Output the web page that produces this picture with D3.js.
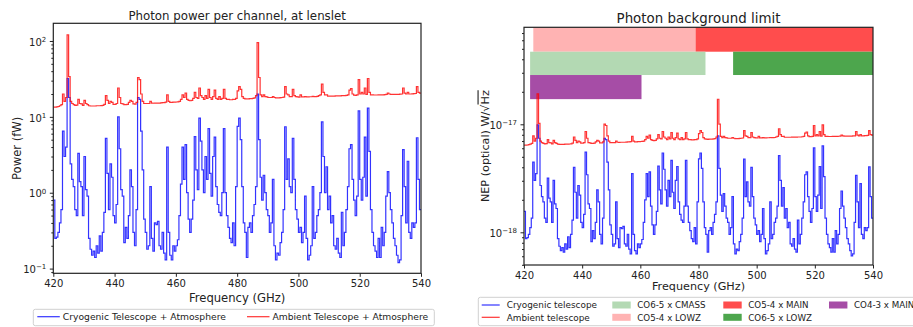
<!DOCTYPE html>
<html>
<head>
<meta charset="utf-8">
<script src="https://cdn.jsdelivr.net/npm/d3@7"></script>
<style>
  body { margin: 0; background: #fff; }
  svg { display: block; font-family: "DejaVu Sans", sans-serif; }
</style>
</head>
<body>
<div id="chart"></div>
<script>
// channel grid: 0.5 GHz bins from 420 GHz
const freqStart = 420;
const freqStep = 0.5;

// photon power per channel (fW)
const cryoPower = [
  0.8, 0.25, 0.26, 0.3, 0.4, 0.6, 6.5, 3.0, 4.0, 32, 18, 2.4, 1.5, 1.2, 0.6, 0.5, 3.3, 1.4, 1.2, 0.5,
  3.0, 1.1, 0.9, 0.25, 0.18, 0.15, 0.17, 0.14, 0.2, 0.16, 0.27, 0.17, 0.3, 0.55, 5.2, 1.8, 0.6, 2.4, 1.6, 0.5,
  0.4, 0.7, 10, 3.8, 1.1, 0.9, 0.22, 0.35, 0.25, 0.5, 2.0, 1.2, 0.3, 0.2, 0.6, 18, 17, 6.5, 2.0, 0.45,
  0.3, 0.18, 0.2, 1.2, 0.25, 0.17, 0.4, 0.38, 0.42, 0.2, 0.18, 0.3, 0.16, 0.13, 4.0, 0.3, 0.15, 0.13, 0.2, 0.17,
  0.2, 0.24, 0.5, 1.3, 4.0, 1.5, 4.3, 1.0, 0.45, 0.3, 0.45, 0.8, 5.5, 2.0, 1.1, 9.6, 4.8, 2.0, 1.0, 3.0,
  1.5, 7.0, 1.8, 0.9, 3.0, 5.4, 1.2, 0.7, 0.55, 0.5, 1.0, 7.0, 1.0, 0.5, 0.35, 0.25, 0.22, 0.4, 0.2, 1.2,
  7.5, 9.6, 5.0, 1.2, 0.4, 0.3, 0.14, 0.35, 0.4, 0.3, 0.5, 0.7, 1.2, 20, 5, 1.6, 0.8, 1.7, 1.0, 0.6,
  0.5, 0.3, 0.4, 1.5, 0.2, 0.13, 0.16, 0.15, 0.22, 0.3, 0.6, 7.4, 1.5, 2.8, 1.2, 1.0, 5.2, 1.5, 0.6, 0.45,
  0.3, 0.35, 0.22, 0.3, 0.9, 0.25, 0.13, 0.15, 0.2, 1.2, 0.25, 0.3, 0.5, 0.6, 1.0, 8.6, 3.0, 1.0, 2.2, 0.6,
  0.9, 0.4, 0.5, 0.2, 0.18, 0.25, 0.16, 0.14, 0.55, 0.2, 0.3, 0.6, 1.2, 3.8, 4.3, 1.5, 0.8, 0.5, 0.9, 12,
  1.5, 0.8, 1.6, 5.4, 0.9, 13, 3.5, 0.6, 0.3, 0.2, 0.17, 0.14, 0.25, 0.14, 0.35, 0.2, 0.3, 0.9, 1.9, 1.0,
  0.6, 0.4, 0.25, 0.2, 0.15, 0.12, 0.13, 0.5, 3.7, 1.2, 0.4, 2.6, 0.3, 0.25, 0.4, 0.35, 0.4, 5.3, 1.5, 0.6
];

const ambientPower = [
  13.4, 13.4, 13.5, 13.7, 14.0, 14.5, 20, 16, 18, 120, 34, 16, 15, 14.5, 14.2, 14.3, 17, 15, 14.8, 14.2,
  16.5, 15, 14.5, 14.0, 13.9, 13.9, 13.9, 13.9, 14.0, 14.0, 14.0, 14.1, 14.2, 14.6, 19, 16.5, 15, 16, 15.5, 14.6,
  14.6, 15, 24, 18, 15, 14.8, 14.5, 14.5, 14.6, 15.5, 16.5, 16, 14.8, 14.7, 15.5, 33, 31, 20, 16, 15,
  15, 15, 15, 16, 15.2, 15.1, 15.2, 15.2, 15.2, 15.2, 15.3, 15.4, 15.4, 15.6, 19.5, 16, 15.5, 15.5, 15.6, 15.6,
  15.7, 15.8, 16, 17, 19.5, 18, 20.5, 17, 16.5, 16.3, 16.5, 17.5, 21, 18, 17.5, 24, 19, 18, 17, 19,
  17.5, 23, 18, 17, 18.5, 22.5, 17.5, 17, 18.5, 17, 17.5, 23, 17.5, 17, 17, 16.8, 16.8, 17, 17, 17.5,
  22, 25, 23, 18.5, 17.5, 17.3, 17.2, 17.3, 17.4, 17.4, 17.5, 17.8, 19, 95, 33, 19.5, 18.5, 19.5, 18.5, 18.3,
  18, 18, 18, 18.5, 18, 17.8, 17.8, 17.8, 17.9, 18, 18.2, 25, 20, 19.5, 18.5, 18.5, 23, 19, 18.5, 18.3,
  18.2, 19.5, 18.3, 18.3, 18.5, 18.3, 18.3, 18.4, 18.4, 18.6, 18.5, 18.5, 18.6, 19, 19.5, 27, 21, 19.5, 19.5, 18.8,
  18.8, 18.8, 18.8, 18.8, 18.9, 18.9, 18.9, 18.9, 19, 19, 19, 19.2, 19.5, 22.5, 23.5, 20, 19.3, 19.2, 19.5, 31,
  20, 21, 20, 24, 19.8, 32, 21, 19.5, 19.5, 19.4, 19.4, 19.4, 19.5, 19.5, 19.5, 19.5, 19.6, 19.8, 20.5, 20,
  19.8, 19.8, 19.8, 19.8, 19.8, 19.8, 19.9, 20, 24, 20.5, 20, 21, 20, 20, 20.1, 20.2, 20.3, 25, 21, 20.5
];

// NEP per sqrt(fW) of photon power (W/sqrt(Hz))
const nepPerRootPower = 1.75e-18;

const freqTicks = [420, 440, 460, 480, 500, 520, 540];
const powerTicks = [0.1, 1, 10, 100];
const nepTicks = [1e-18, 1e-17];

// survey bands on the NEP panel
const bandNames = ['CO5-4 x LOWZ', 'CO5-4 x MAIN', 'CO6-5 x CMASS', 'CO6-5 x LOWZ', 'CO4-3 x MAIN'];
const bandFreqLo = [423.2, 479.0, 422.1, 491.9, 422.1];
const bandFreqHi = [479.0, 545, 482.4, 545, 460.4];
const bandNepLo = [4.7e-17, 4.7e-17, 2.86e-17, 2.86e-17, 1.71e-17];
const bandNepHi = [1.2e-16, 1.2e-16, 4.7e-17, 4.7e-17, 2.86e-17];

// styles
const blue = '#0000ff';
const red = '#ff0000';
const lineAlpha = 0.8;
const lineWidth = 1.2;
const bandColor = {
  'CO5-4 x LOWZ': '#ffb3b3',
  'CO5-4 x MAIN': '#ff4d4d',
  'CO6-5 x CMASS': '#b3d9b3',
  'CO6-5 x LOWZ': '#4da64d',
  'CO4-3 x MAIN': '#a64da6'
};
const ink = '#222';

const svg = d3.select('#chart').append('svg')
  .attr('width', 913)
  .attr('height', 327);

const channels = (values) => {
  const pts = values.map((v, i) => [freqStart + i * freqStep, v]);
  pts.push([freqStart + values.length * freqStep, values[values.length - 1]]);
  return pts;
};

function minorTicks (domain) {
  const out = [];
  const lo = Math.floor(Math.log10(domain[0]));
  const hi = Math.ceil(Math.log10(domain[1]));
  for (let e = lo; e <= hi; e++) {
    for (let k = 2; k <= 9; k++) {
      const v = k * Math.pow(10, e);
      if (v >= domain[0] && v <= domain[1]) out.push(v);
    }
  }
  return out;
}

function panel (id, box, yDomain, yTicks, labelSize) {
  const x = d3.scaleLinear().domain([420, 540]).range([box.left, box.right]);
  const y = d3.scaleLog().domain(yDomain).range([box.bottom, box.top]);

  svg.append('clipPath').attr('id', id)
    .append('rect')
    .attr('x', box.left).attr('y', box.top)
    .attr('width', box.right - box.left).attr('height', box.bottom - box.top);

  const plot = svg.append('g').attr('clip-path', `url(#${id})`);

  // x axis
  const xg = svg.append('g')
    .attr('transform', `translate(0, ${box.bottom})`)
    .call(d3.axisBottom(x).tickValues(freqTicks).tickSize(3.5).tickPadding(3.5).tickSizeOuter(0));
  xg.select('.domain').remove();
  xg.selectAll('text').attr('font-family', null).attr('font-size', labelSize).attr('fill', ink);
  xg.selectAll('line').attr('stroke', ink);
  xg.attr('font-family', null);

  // y axis, major with 10^n labels
  const yg = svg.append('g')
    .attr('transform', `translate(${box.left}, 0)`)
    .call(d3.axisLeft(y).tickValues(yTicks).tickSize(3.5).tickPadding(3.5).tickFormat(''));
  yg.select('.domain').remove();
  yg.attr('font-family', null);
  yg.selectAll('line').attr('stroke', ink);
  yg.selectAll('.tick text')
    .attr('font-family', null)
    .attr('font-size', labelSize)
    .attr('fill', ink)
    .attr('dy', '0.42em')
    .each(function (d) {
      const e = Math.round(Math.log10(d));
      const t = d3.select(this);
      t.text('10');
      t.append('tspan')
        .attr('dy', '-0.55em')
        .attr('font-size', '0.7em')
        .text(String(e).replace('-', '\u2212'));
    });

  // y axis, minor
  const ym = svg.append('g')
    .attr('transform', `translate(${box.left}, 0)`)
    .call(d3.axisLeft(y).tickValues(minorTicks(yDomain)).tickSize(2).tickFormat(''));
  ym.select('.domain').remove();
  ym.selectAll('line').attr('stroke', ink);

  return { x, y, plot };
}

function drawSpines (box) {
  svg.append('rect')
    .attr('x', box.left).attr('y', box.top)
    .attr('width', box.right - box.left).attr('height', box.bottom - box.top)
    .attr('fill', 'none')
    .attr('stroke', ink)
    .attr('stroke-width', 1.2);
}

function drawSeries (plot, line, values, color) {
  plot.append('path')
    .attr('d', line(channels(values)))
    .attr('fill', 'none').attr('stroke', color)
    .attr('stroke-opacity', lineAlpha).attr('stroke-width', lineWidth);
}

// ---------- left: photon power ----------
const boxL = { left: 53.3, right: 421, top: 23.3, bottom: 273.3 };
const L = panel('clipL', boxL, [0.0867, 171], powerTicks, 10);

const lineL = d3.line()
  .x(d => L.x(d[0]))
  .y(d => L.y(d[1]))
  .curve(d3.curveStepAfter);

drawSeries(L.plot, lineL, cryoPower, blue);
drawSeries(L.plot, lineL, ambientPower, red);

drawSpines(boxL);

svg.append('text')
  .attr('x', (boxL.left + boxL.right) / 2).attr('y', 19.5)
  .attr('text-anchor', 'middle').attr('font-size', 11.8).attr('fill', ink)
  .text('Photon power per channel, at lenslet');
svg.append('text')
  .attr('x', (boxL.left + boxL.right) / 2).attr('y', 301.5)
  .attr('text-anchor', 'middle').attr('font-size', 11.6).attr('fill', ink)
  .text('Frequency (GHz)');
svg.append('text')
  .attr('transform', `translate(20.5, ${(boxL.top + boxL.bottom) / 2}) rotate(-90)`)
  .attr('text-anchor', 'middle').attr('font-size', 11.6).attr('fill', ink)
  .text('Power (fW)');

// left legend
const legL = svg.append('g');
legL.append('rect')
  .attr('x', 33.3).attr('y', 309.3).attr('width', 401).attr('height', 16.4)
  .attr('rx', 2).attr('fill', '#fff').attr('stroke', '#d0d0d0').attr('stroke-width', 1);
[
  { name: 'Cryogenic Telescope + Atmosphere', color: blue, x: 37.3 },
  { name: 'Ambient Telescope + Atmosphere', color: red, x: 247 }
].forEach(item => {
  legL.append('line')
    .attr('x1', item.x).attr('x2', item.x + 22.5)
    .attr('y1', 316.7).attr('y2', 316.7)
    .attr('stroke', item.color).attr('stroke-opacity', lineAlpha).attr('stroke-width', lineWidth);
  legL.append('text')
    .attr('x', item.x + 25.5).attr('y', 320)
    .attr('font-size', 9.2).attr('fill', ink)
    .text(item.name);
});

// ---------- right: NEP ----------
const boxR = { left: 524, right: 873, top: 27.3, bottom: 265 };
const R = panel('clipR', boxR, [4.98e-19, 7.91e-17], nepTicks, 10);

const nep = d3.scaleSqrt().domain([0, 1]).range([0, nepPerRootPower]);

R.plot.selectAll('rect.band')
  .data(bandNames)
  .join('rect')
  .attr('class', 'band')
  .attr('x', (d, i) => R.x(bandFreqLo[i]))
  .attr('width', (d, i) => R.x(bandFreqHi[i]) - R.x(bandFreqLo[i]))
  .attr('y', (d, i) => R.y(bandNepHi[i]))
  .attr('height', (d, i) => R.y(bandNepLo[i]) - R.y(bandNepHi[i]))
  .attr('fill', d => bandColor[d]);

const lineR = d3.line()
  .x(d => R.x(d[0]))
  .y(d => R.y(nep(d[1])))
  .curve(d3.curveStepAfter);

drawSeries(R.plot, lineR, cryoPower, blue);
drawSeries(R.plot, lineR, ambientPower, red);

drawSpines(boxR);

svg.append('text')
  .attr('x', (boxR.left + boxR.right) / 2).attr('y', 23)
  .attr('text-anchor', 'middle').attr('font-size', 13.4).attr('fill', ink)
  .text('Photon background limit');
svg.append('text')
  .attr('x', (boxR.left + boxR.right) / 2).attr('y', 290)
  .attr('text-anchor', 'middle').attr('font-size', 11.2).attr('fill', ink)
  .text('Frequency (GHz)');
const yLabR = svg.append('text')
  .attr('transform', `translate(488.5, ${(boxR.top + boxR.bottom) / 2}) rotate(-90)`)
  .attr('text-anchor', 'middle').attr('font-size', 11.2).attr('fill', ink);
yLabR.append('tspan').text('NEP (optical) W/\u221A');
yLabR.append('tspan').style('text-decoration', 'overline').text('Hz');

// right legend (runs past the right edge, as in the original figure)
const legR = svg.append('g');
legR.append('rect')
  .attr('x', 478.3).attr('y', 297.3).attr('width', 460).attr('height', 28.4)
  .attr('rx', 2).attr('fill', '#fff').attr('stroke', '#d0d0d0').attr('stroke-width', 1);
const rowY = [305, 317.3];
[
  { name: 'Cryogenic telescope', color: blue, col: 481.7, row: 0 },
  { name: 'Ambient telescope', color: red, col: 481.7, row: 1 }
].forEach(item => {
  legR.append('line')
    .attr('x1', item.col).attr('x2', item.col + 18)
    .attr('y1', rowY[item.row]).attr('y2', rowY[item.row])
    .attr('stroke', item.color).attr('stroke-opacity', lineAlpha).attr('stroke-width', lineWidth);
  legR.append('text')
    .attr('x', item.col + 25).attr('y', rowY[item.row] + 3.2)
    .attr('font-size', 8.9).attr('fill', ink)
    .text(item.name);
});
const patchCols = [612.3, 723.3, 829];
const patchOrder = ['CO6-5 x CMASS', 'CO5-4 x LOWZ', 'CO5-4 x MAIN', 'CO6-5 x LOWZ', 'CO4-3 x MAIN'];
patchOrder.forEach((name, i) => {
  const cx = patchCols[Math.floor(i / 2)];
  const ry = rowY[i % 2];
  legR.append('rect')
    .attr('x', cx).attr('y', ry - 3.5).attr('width', 18.4).attr('height', 7)
    .attr('fill', bandColor[name]);
  legR.append('text')
    .attr('x', cx + 25).attr('y', ry + 3.2)
    .attr('font-size', 8.7).attr('fill', ink)
    .text(name);
});
</script>
</body>
</html>
